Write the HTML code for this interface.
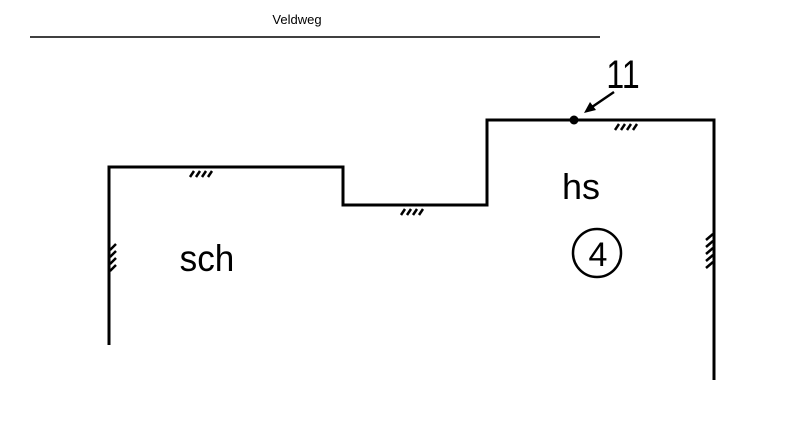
<!DOCTYPE html>
<html><head><style>body{margin:0;background:#fff}svg{display:block}</style></head><body>
<svg width="800" height="423" viewBox="0 0 800 423" xmlns="http://www.w3.org/2000/svg">
<rect width="800" height="423" fill="#fff"/>
<text x="297" y="24" font-family="Liberation Sans, sans-serif" font-size="13" text-anchor="middle">Veldweg</text>
<line x1="30" y1="37" x2="600" y2="37" stroke="#000" stroke-width="1.5"/>
<polyline points="109,345 109,167 343,167 343,205 487,205 487,120 714,120 714,380" fill="none" stroke="#000" stroke-width="3"/>
<g stroke="#000" stroke-width="2.5">
<line x1="190" y1="177" x2="194" y2="171"/><line x1="196" y1="177" x2="200" y2="171"/><line x1="202" y1="177" x2="206" y2="171"/><line x1="208" y1="177" x2="212" y2="171"/>
<line x1="401" y1="215" x2="405" y2="209"/><line x1="407" y1="215" x2="411" y2="209"/><line x1="413" y1="215" x2="417" y2="209"/><line x1="419" y1="215" x2="423" y2="209"/>
<line x1="615" y1="130" x2="619" y2="124"/><line x1="621" y1="130" x2="625" y2="124"/><line x1="627" y1="130" x2="631" y2="124"/><line x1="633" y1="130" x2="637" y2="124"/>
<line x1="110" y1="250" x2="116" y2="244"/><line x1="110" y1="257" x2="116" y2="251"/><line x1="110" y1="264" x2="116" y2="258"/><line x1="110" y1="271" x2="116" y2="265"/>
<line x1="706" y1="240" x2="713" y2="234"/><line x1="706" y1="247" x2="713" y2="241"/><line x1="706" y1="254" x2="713" y2="248"/><line x1="706" y1="261" x2="713" y2="255"/><line x1="706" y1="268" x2="713" y2="262"/>
</g>
<circle cx="574" cy="120" r="4.5" fill="#000"/>
<line x1="614" y1="92" x2="592" y2="107" stroke="#000" stroke-width="2.5"/>
<polygon points="584,113 590,102 596,110" fill="#000"/>
<text x="0" y="0" transform="translate(623,88) scale(0.8,1)" font-family="Liberation Sans, sans-serif" font-size="40" text-anchor="middle">11</text>
<text x="581" y="199" font-family="Liberation Sans, sans-serif" font-size="36" text-anchor="middle">hs</text>
<circle cx="597" cy="253" r="24" fill="none" stroke="#000" stroke-width="2.5"/>
<text x="598" y="266" font-family="Liberation Sans, sans-serif" font-size="34" text-anchor="middle">4</text>
<text x="0" y="0" transform="translate(207,271) scale(0.95,1)" font-family="Liberation Sans, sans-serif" font-size="37" text-anchor="middle">sch</text>
</svg>
</body></html>
